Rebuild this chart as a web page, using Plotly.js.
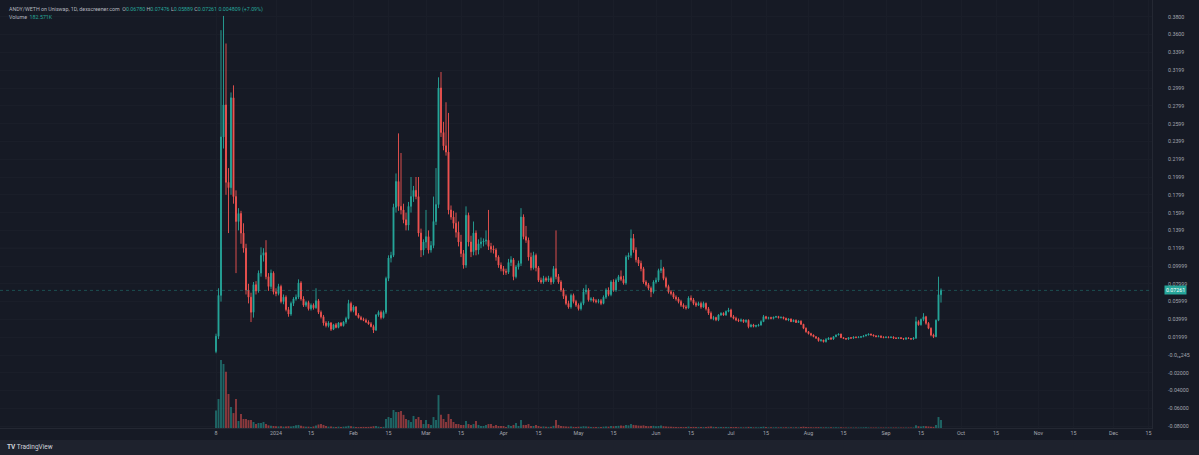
<!DOCTYPE html>
<html>
<head>
<meta charset="utf-8">
<script src="https://cdn.plot.ly/plotly-3.0.1.min.js"></script>
<style>
html,body{margin:0;padding:0;background:#161a25;}
#chart{width:1199px;height:455px;}
</style>
</head>
<body>
<div id="chart"></div>
<script>
// ---- data (daily candles, ANDY/WETH, first bar 2023-12-08) ----
const startDate = '2023-12-08';

const open = [
.004,.021,.067,.245,.281,.194,.188,.289,.178,.150,
.159,.137,.120,.073,.065,.048,.079,.072,.092,.112,
.115,.088,.077,.092,.071,.069,.077,.060,.065,.051,
.046,.058,.063,.065,.081,.063,.056,.059,.052,.056,
.053,.061,.048,.043,.036,.033,.036,.029,.034,.031,
.036,.033,.037,.041,.058,.050,.054,.045,.042,.040,
.039,.037,.035,.032,.028,.045,.048,.042,.048,.086,
.109,.112,.166,.195,.167,.163,.152,.146,.167,.178,
.185,.178,.137,.118,.127,.133,.118,.123,.150,.169,
.300,.250,.235,.228,.163,.155,.148,.138,.127,.114,
.101,.157,.127,.116,.137,.118,.125,.127,.128,.129,
.122,.119,.118,.110,.101,.097,.094,.093,.104,.107,
.088,.099,.103,.155,.133,.129,.110,.098,.112,.098,
.084,.082,.086,.084,.086,.082,.097,.088,.082,.073,
.066,.058,.054,.067,.060,.056,.052,.058,.071,.073,
.062,.063,.061,.060,.061,.058,.065,.073,.068,.082,
.073,.084,.088,.085,.081,.110,.112,.131,.118,.107,
.103,.097,.082,.079,.075,.071,.082,.084,.095,.097,
.086,.077,.071,.069,.065,.063,.060,.056,.054,.053,
.064,.062,.058,.056,.058,.054,.058,.052,.047,.041,
.042,.0396,.045,.0468,.045,.049,.0505,.0431,.0412,.0393,
.0385,.0393,.0375,.039,.0318,.0337,.0322,.033,.0337,.0375,
.0431,.0412,.042,.0412,.0425,.0431,.042,.0425,.0412,.0393,
.0405,.0375,.039,.0365,.038,.0345,.030,.0262,.024,.0225,
.0206,.019,.0161,.0168,.015,.0175,.019,.018,.0206,.0225,
.0235,.0195,.0185,.018,.0195,.019,.020,.0195,.020,.0206,
.0215,.0225,.0235,.0225,.0215,.0206,.0212,.020,.0195,.020,
.0195,.020,.019,.0187,.0195,.0185,.018,.019,.0185,.018,
.019,.0375,.034,.040,.043,.0356,.030,.0225,.0206,.039,
.0678];

const high = [
.024,.075,.365,.381,.350,.210,.295,.303,.185,.165,
.162,.148,.125,.080,.070,.082,.083,.095,.121,.120,
.129,.092,.096,.094,.075,.080,.079,.068,.067,.054,
.060,.065,.068,.085,.083,.066,.061,.061,.058,.058,
.075,.063,.050,.045,.038,.038,.037,.035,.036,.037,
.037,.038,.043,.062,.060,.056,.055,.047,.044,.042,
.041,.039,.037,.034,.046,.050,.050,.050,.088,.112,
.116,.170,.204,.249,.227,.170,.160,.172,.200,.190,
.200,.200,.142,.130,.163,.140,.128,.178,.210,.312,
.318,.262,.284,.272,.168,.162,.160,.150,.135,.118,
.167,.160,.134,.150,.140,.130,.132,.131,.140,.163,
.126,.123,.120,.112,.104,.100,.097,.108,.111,.109,
.101,.106,.165,.158,.145,.132,.115,.116,.114,.100,
.087,.089,.088,.089,.088,.100,.140,.091,.084,.075,
.068,.061,.069,.069,.062,.058,.060,.075,.079,.075,
.065,.065,.063,.063,.063,.067,.075,.076,.084,.085,
.086,.090,.095,.089,.112,.115,.141,.136,.121,.110,
.106,.099,.084,.081,.077,.084,.087,.097,.107,.099,
.088,.079,.073,.071,.067,.065,.062,.058,.056,.066,
.067,.064,.060,.060,.060,.060,.059,.054,.049,.044,
.043,.046,.048,.048,.050,.053,.052,.045,.043,.041,
.041,.040,.040,.040,.035,.035,.034,.035,.039,.045,
.044,.043,.043,.043,.044,.044,.043,.043,.042,.041,
.041,.040,.040,.039,.039,.035,.031,.027,.025,.023,
.021,.020,.018,.017,.019,.020,.020,.021,.023,.024,
.024,.020,.019,.020,.020,.021,.021,.021,.021,.022,
.023,.024,.024,.023,.022,.022,.022,.021,.021,.021,
.021,.021,.020,.020,.020,.019,.020,.020,.019,.020,
.043,.039,.041,.047,.044,.037,.031,.024,.040,.088,
.07476];

const low = [
.002,.018,.060,.232,.180,.137,.180,.170,.092,.140,
.125,.115,.068,.058,.037,.042,.068,.070,.088,.105,
.085,.072,.074,.068,.066,.067,.058,.057,.049,.043,
.044,.055,.061,.063,.061,.054,.054,.050,.050,.051,
.052,.046,.041,.033,.031,.031,.027,.028,.030,.030,
.032,.032,.035,.040,.048,.048,.044,.041,.039,.038,
.036,.034,.031,.0247,.027,.043,.040,.041,.046,.083,
.104,.110,.160,.162,.158,.148,.140,.140,.160,.172,
.175,.133,.110,.112,.120,.114,.115,.120,.146,.165,
.245,.230,.224,.158,.152,.142,.132,.122,.110,.097,
.098,.122,.110,.112,.112,.113,.120,.122,.124,.118,
.115,.114,.106,.098,.094,.090,.090,.091,.100,.084,
.086,.096,.100,.130,.126,.106,.095,.096,.094,.082,
.080,.080,.082,.082,.079,.080,.085,.080,.071,.063,
.056,.052,.052,.058,.054,.050,.050,.056,.068,.060,
.060,.059,.058,.058,.056,.057,.063,.066,.066,.071,
.071,.082,.083,.079,.079,.107,.109,.115,.104,.100,
.094,.080,.077,.073,.065,.069,.080,.082,.092,.084,
.075,.069,.067,.063,.061,.058,.054,.052,.051,.052,
.060,.056,.054,.055,.052,.053,.050,.045,.040,.039,
.038,.038,.044,.044,.044,.048,.042,.040,.038,.037,
.037,.036,.036,.030,.031,.031,.031,.032,.033,.037,
.040,.040,.040,.040,.042,.041,.041,.040,.039,.038,
.037,.037,.036,.036,.034,.029,.025,.023,.021,.020,
.018,.015,.015,.014,.014,.017,.017,.017,.020,.022,
.019,.018,.017,.017,.018,.018,.019,.019,.019,.020,
.021,.022,.022,.021,.020,.020,.019,.019,.019,.019,
.019,.018,.018,.018,.018,.017,.017,.018,.017,.017,
.018,.033,.033,.038,.034,.029,.021,.019,.020,.038,
.05889];

const close = [
.021,.067,.245,.281,.194,.188,.289,.178,.150,.159,
.137,.120,.073,.065,.048,.079,.072,.092,.112,.115,
.088,.077,.092,.071,.069,.077,.060,.065,.051,.046,
.058,.063,.065,.081,.063,.056,.059,.052,.056,.053,
.061,.048,.043,.036,.033,.036,.029,.034,.031,.036,
.033,.037,.041,.058,.050,.054,.045,.042,.040,.039,
.037,.035,.032,.028,.045,.048,.042,.048,.086,.109,
.112,.166,.195,.167,.163,.152,.146,.167,.178,.185,
.178,.137,.118,.127,.133,.118,.123,.150,.169,.300,
.250,.235,.228,.163,.155,.148,.138,.127,.114,.101,
.157,.127,.116,.137,.118,.125,.127,.128,.129,.122,
.119,.118,.110,.101,.097,.094,.093,.104,.107,.088,
.099,.103,.155,.133,.129,.110,.098,.112,.098,.084,
.082,.086,.084,.086,.082,.097,.088,.082,.073,.066,
.058,.054,.067,.060,.056,.052,.058,.071,.073,.062,
.063,.061,.060,.061,.058,.065,.073,.068,.082,.073,
.084,.088,.085,.081,.110,.112,.131,.118,.107,.103,
.097,.082,.079,.075,.071,.082,.084,.095,.097,.086,
.077,.071,.069,.065,.063,.060,.056,.054,.053,.064,
.062,.058,.056,.058,.054,.058,.052,.047,.041,.042,
.0396,.045,.0468,.045,.049,.0505,.0431,.0412,.0393,.0385,
.0393,.0375,.039,.0318,.0337,.0322,.033,.0337,.0375,.0431,
.0412,.042,.0412,.0425,.0431,.042,.0425,.0412,.0393,.0405,
.0375,.039,.0365,.038,.0345,.030,.0262,.024,.0225,.0206,
.019,.0161,.0168,.015,.0175,.019,.018,.0206,.0225,.0235,
.0195,.0185,.018,.0195,.019,.020,.0195,.020,.0206,.0215,
.0225,.0235,.0225,.0215,.0206,.0212,.020,.0195,.020,.0195,
.020,.019,.0187,.0195,.0185,.018,.019,.0185,.018,.019,
.0375,.034,.040,.043,.0356,.030,.0225,.0206,.039,.0678,
.07261];

// volume in thousands
const volumeK = [
400,660,1550,1460,1280,775,480,340,660,160,
320,205,205,180,180,137,90,115,115,137,
90,60,50,45,40,35,40,30,35,40,
35,45,60,70,50,35,30,30,25,35,
55,80,90,70,45,30,35,25,25,30,
25,30,35,50,40,30,25,20,20,25,
20,25,30,40,45,30,25,25,205,250,
230,410,365,365,390,300,205,180,137,275,
205,250,180,90,180,90,70,250,180,750,
300,205,137,320,205,137,90,90,70,70,
160,90,70,90,160,70,46,46,70,90,
90,46,70,46,46,46,23,70,46,70,
115,46,180,70,70,90,46,46,70,46,
30,35,30,25,30,50,180,70,46,40,
35,30,35,25,25,30,30,40,35,30,
25,20,20,20,25,30,35,30,45,40,
45,50,55,50,70,60,90,70,60,55,
50,60,45,40,45,50,40,45,55,40,
35,30,30,25,25,20,25,20,20,30,
25,25,20,20,25,20,25,30,35,25,
20,20,25,20,20,20,25,20,20,15,
15,15,15,25,20,15,15,15,20,30,
20,15,15,15,15,15,15,15,15,15,
15,15,15,15,20,30,25,20,15,15,
15,20,15,15,15,15,15,15,15,15,
15,12,12,12,12,12,12,12,12,15,
15,12,12,12,12,12,12,12,12,12,
12,12,12,12,12,12,12,12,12,12,
60,40,35,45,40,35,30,25,70,250,
182.571];

const yTickVals = [0.38,0.36,0.3399,0.3199,0.2999,0.2799,0.2599,0.2399,0.2199,0.1999,0.1799,0.1599,0.1399,0.1199,0.09999,0.07999,0.05999,0.03999,0.01999,0,-0.02,-0.04,-0.06,-0.08];
const yTickText = ['0.3800','0.3600','0.3399','0.3199','0.2999','0.2799','0.2599','0.2399','0.2199','0.1999','0.1799','0.1599','0.1399','0.1199','0.09999','0.07999','0.05999','0.03999','0.01999','-0.0\u2081\u2086245','-0.02000','-0.04000','-0.06000','-0.08000'];

const xTickVals = ['2023-12-08','2024-01-01','2024-01-15','2024-02-01','2024-02-15','2024-03-01','2024-03-15','2024-04-01','2024-04-15','2024-05-01','2024-05-15','2024-06-01','2024-06-15','2024-07-01','2024-07-15','2024-08-01','2024-08-15','2024-09-01','2024-09-15','2024-10-01','2024-10-15','2024-11-01','2024-11-15','2024-12-01','2024-12-15'];
const xTickText = ['8','2024','15','Feb','15','Mar','15','Apr','15','May','15','Jun','15','Jul','15','Aug','15','Sep','15','Oct','15','Nov','15','Dec','15'];

const lastPrice = 0.07261;

// ---- build ----
const DAY = 86400000;
const t0 = Date.parse(startDate + 'T00:00:00Z');
const dates = open.map((_, i) => new Date(t0 + i * DAY).toISOString().slice(0, 10));

const UP = '#26a69a', DOWN = '#ef5350';
const volColors = open.map((o, i) => close[i] >= o ? 'rgba(38,166,154,0.55)' : 'rgba(239,83,80,0.55)');

const W = 1199, H = 455, mL = 0, mR = 47, mT = 0, mB = 27;
const plotW = W - mL - mR, plotH = H - mT - mB;
// x: first bar at 216px, 2.5 px per day
const pxPerDay = 2.5, firstBarPx = 216;
const xr0 = new Date(t0 - (firstBarPx / pxPerDay) * DAY).toISOString();
const xr1 = new Date(t0 + ((plotW - firstBarPx) / pxPerDay) * DAY).toISOString();
// y: 0 at 355px, 890 px per unit
const yr = [(355 - plotH) / 890, 355 / 890];
const volPxPerK = 1 / 22.8;
const volRange = [0, plotH / volPxPerK];

const FONT = 'Roboto, "Liberation Sans", sans-serif';
const gridC = '#1a1e29';
const FS = 5.3;

const traces = [
  {
    type: 'bar', x: dates, y: volumeK, yaxis: 'y2',
    marker: { color: volColors, line: { width: 0 } },
    hoverinfo: 'skip', showlegend: false
  },
  {
    type: 'candlestick', x: dates, open: open, high: high, low: low, close: close,
    increasing: { line: { color: UP, width: 0.9 }, fillcolor: UP },
    decreasing: { line: { color: DOWN, width: 0.9 }, fillcolor: DOWN },
    whiskerwidth: 0, showlegend: false, hoverinfo: 'skip'
  }
];

const layout = {
  width: W, height: H,
  margin: { l: mL, r: mR, t: mT, b: mB, pad: 0 },
  paper_bgcolor: '#161a25', plot_bgcolor: '#161a25',
  font: { family: FONT, color: '#9598a1', size: FS },
  showlegend: false,
  bargap: 0.25,
  boxgap: 0.45,
  xaxis: {
    type: 'date', range: [xr0, xr1], rangeslider: { visible: false },
    tickmode: 'array', tickvals: xTickVals, ticktext: xTickText,
    showgrid: true, gridcolor: gridC, gridwidth: 1,
    zeroline: false, showline: true, linecolor: '#242833', linewidth: 1,
    ticks: '', tickfont: { size: FS, color: '#a3a6af' }, fixedrange: true
  },
  yaxis: {
    range: yr, side: 'right',
    tickmode: 'array', tickvals: yTickVals, ticktext: yTickText,
    showgrid: true, gridcolor: gridC, zeroline: false,
    showline: true, linecolor: '#242833', mirror: false,
    ticks: '', ticklabelstandoff: 14,
    tickfont: { size: FS, color: '#a3a6af' }, fixedrange: true
  },
  yaxis2: {
    overlaying: 'y', range: volRange, visible: false, fixedrange: true
  },
  shapes: [
    // bottom band
    { type: 'rect', xref: 'paper', yref: 'paper', x0: -0.01, x1: W / plotW + 0.01,
      y0: -(440 - plotH) / plotH, y1: -(H + 5 - plotH) / plotH,
      fillcolor: '#1e222d', line: { width: 0 }, layer: 'below' },
    // faint horizontal levels that stand out
    { type: 'line', xref: 'paper', yref: 'y', x0: 0, x1: 1, y0: 0.2399, y1: 0.2399,
      line: { color: '#232733', width: 1 }, layer: 'below' },
    { type: 'line', xref: 'paper', yref: 'y', x0: 0, x1: 1, y0: 0.1199, y1: 0.1199,
      line: { color: '#212531', width: 1 }, layer: 'below' },
    // last price line
    { type: 'line', xref: 'paper', yref: 'y', x0: 0, x1: 1, y0: lastPrice, y1: lastPrice,
      line: { color: 'rgba(38,166,154,0.38)', width: 1, dash: 'dot' } }
  ],
  annotations: [
    { xref: 'paper', yref: 'paper', x: 7 / plotW, y: 1 - 10 / plotH, xanchor: 'left', yanchor: 'middle',
      showarrow: false, align: 'left', font: { size: FS, color: '#b2b5be' },
      text: 'ANDY/WETH on Uniswap, 1D, dexscreener.com  ' +
        'O<span style="color:#26a69a">0.06780</span> H<span style="color:#26a69a">0.07476</span> ' +
        'L<span style="color:#26a69a">0.05889</span> C<span style="color:#26a69a">0.07261</span> ' +
        '<span style="color:#26a69a">0.004809 (+7.09%)</span>' },
    { xref: 'paper', yref: 'paper', x: 7 / plotW, y: 1 - 17 / plotH, xanchor: 'left', yanchor: 'middle',
      showarrow: false, align: 'left', font: { size: FS, color: '#b2b5be' },
      text: 'Volume  <span style="color:#26a69a">182.571K</span>' },
    // last price label
    { xref: 'paper', yref: 'y', x: 1164 / plotW, y: lastPrice, xanchor: 'left', yanchor: 'middle',
      showarrow: false, text: '0.07261', bgcolor: '#26a69a', borderpad: 1,
      font: { size: FS, color: '#ffffff' } },
    // TradingView mark
    { xref: 'paper', yref: 'paper', x: 5 / plotW, y: -(447 - plotH) / plotH, xanchor: 'left', yanchor: 'middle',
      showarrow: false, text: '<b>TV</b> TradingView', font: { size: 6.5, color: '#d1d4dc' } }
  ]
};

Plotly.newPlot('chart', traces, layout, { displayModeBar: false, staticPlot: true });
</script>
</body>
</html>
